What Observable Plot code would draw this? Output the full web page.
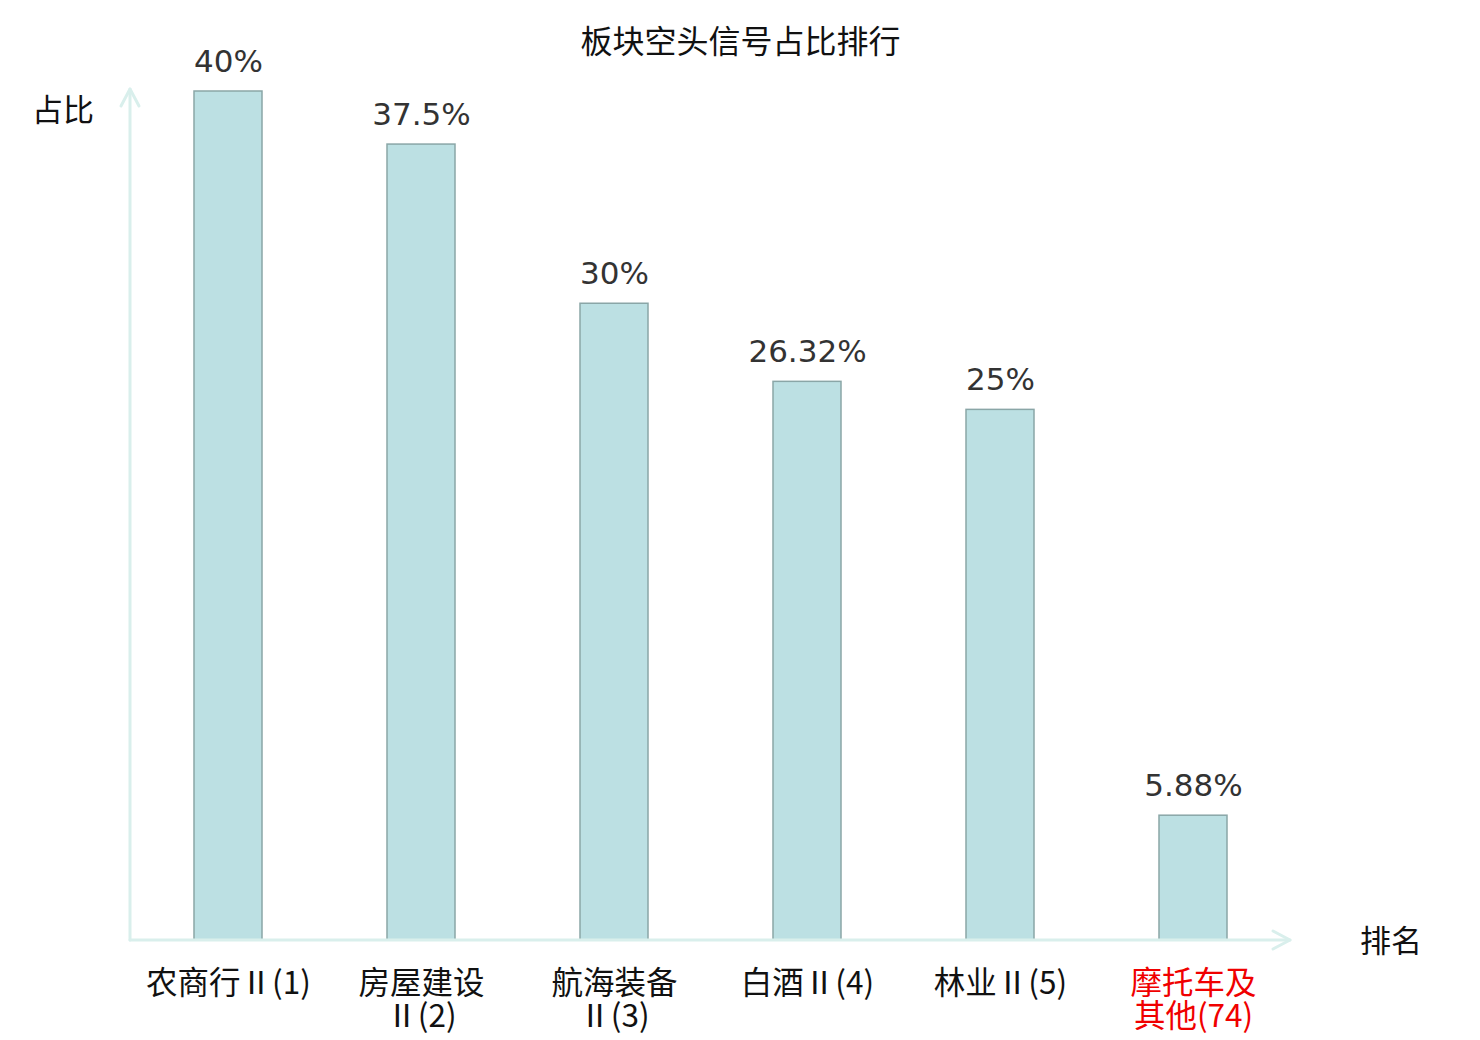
<!DOCTYPE html>
<html>
<head>
<meta charset="utf-8">
<script src="https://cdn.jsdelivr.net/npm/d3@7"></script>
<script src="https://cdn.jsdelivr.net/npm/@observablehq/plot@0.6"></script>
<style>
  html, body { margin: 0; padding: 0; background: #fff; }
  #chart svg { display: block; }
</style>
</head>
<body>
<div id="chart"></div>
<script>
const title = "板块空头信号占比排行";
const categories = ["农商行Ⅱ(1)", "房屋建设Ⅱ(2)", "航海装备Ⅱ(3)", "白酒Ⅱ(4)", "林业Ⅱ(5)", "摩托车及其他(74)"];
const tickLabels = ["农商行Ⅱ(1)", "房屋建设\nⅡ(2)", "航海装备\nⅡ(3)", "白酒Ⅱ(4)", "林业Ⅱ(5)", "摩托车及\n其他(74)"];
const values = [40, 37.5, 30, 26.32, 25, 5.88];
const valueLabels = ["40%", "37.5%", "30%", "26.32%", "25%", "5.88%"];
const highlighted = [false, false, false, false, false, true];
const yAxisLabel = "占比";
const xAxisLabel = "排名";

const data = categories.map((c, i) => ({
  category: c, tick: tickLabels[i], value: values[i], label: valueLabels[i], hl: highlighted[i]
}));

const axisColor = "#d9efec";
const cjk = "'Noto Sans CJK SC', sans-serif";

function axesMark(index, scales, values, dims) {
  const svg = d3.create("svg:g");
  const x0 = dims.marginLeft;
  const x1 = dims.width - dims.marginRight;
  const yb = dims.height - dims.marginBottom;
  const yt = dims.marginTop - 2;
  const g = svg.append("g").attr("fill", "none").attr("stroke", axisColor)
    .attr("stroke-width", 3).attr("stroke-linecap", "round").attr("stroke-linejoin", "round");
  g.append("line").attr("x1", x0).attr("x2", x0).attr("y1", yb).attr("y2", yt);
  g.append("polyline").attr("points", `${x0 - 9},${yt + 17} ${x0},${yt} ${x0 + 9},${yt + 17}`);
  g.append("line").attr("x1", x0).attr("x2", x1).attr("y1", yb).attr("y2", yb);
  g.append("polyline").attr("points", `${x1 - 17},${yb - 9} ${x1},${yb} ${x1 - 17},${yb + 9}`);
  const t = svg.append("g").attr("font-family", cjk).attr("font-size", 31).attr("fill", "#111");
  t.append("text").attr("x", 63).attr("y", 110).attr("text-anchor", "middle").attr("dy", "0.35em").text(yAxisLabel);
  t.append("text").attr("x", x1 + 101).attr("y", yb + 1).attr("text-anchor", "middle").attr("dy", "0.35em").text(xAxisLabel);
  return svg.node();
}

const plot = Plot.plot({
  width: 1480,
  height: 1040,
  marginLeft: 130,
  marginRight: 190,
  marginTop: 91,
  marginBottom: 100,
  style: { background: "#fff", overflow: "visible" },
  x: { type: "band", domain: categories, paddingInner: 0.65, paddingOuter: 0.325, axis: null },
  y: { domain: [0, 40], axis: null },
  marks: [
    Plot.barY(data, { x: "category", y: "value", fill: "#bce0e3", stroke: "#8aa6a7", strokeWidth: 1.5 }),
    axesMark,
    Plot.text(data, {
      x: "category", y: "value", text: "label", dy: -20, lineAnchor: "bottom",
      fill: "#333", fontSize: 31, fontFamily: "'DejaVu Sans', sans-serif"
    }),
    Plot.text(data, {
      x: "category", frameAnchor: "bottom", text: "tick", lineAnchor: "top", dy: 30,
      lineHeight: 1.04, fill: d => d.hl ? "#f00000" : "#111", fontSize: 31.5,
      fontFamily: cjk
    }),
    Plot.text([title], {
      frameAnchor: "top", text: d => d, dy: -49, dx: 30, fill: "#111", fontSize: 32,
      fontFamily: cjk, lineAnchor: "middle"
    })
  ]
});
document.getElementById("chart").appendChild(plot);
</script>
</body>
</html>
